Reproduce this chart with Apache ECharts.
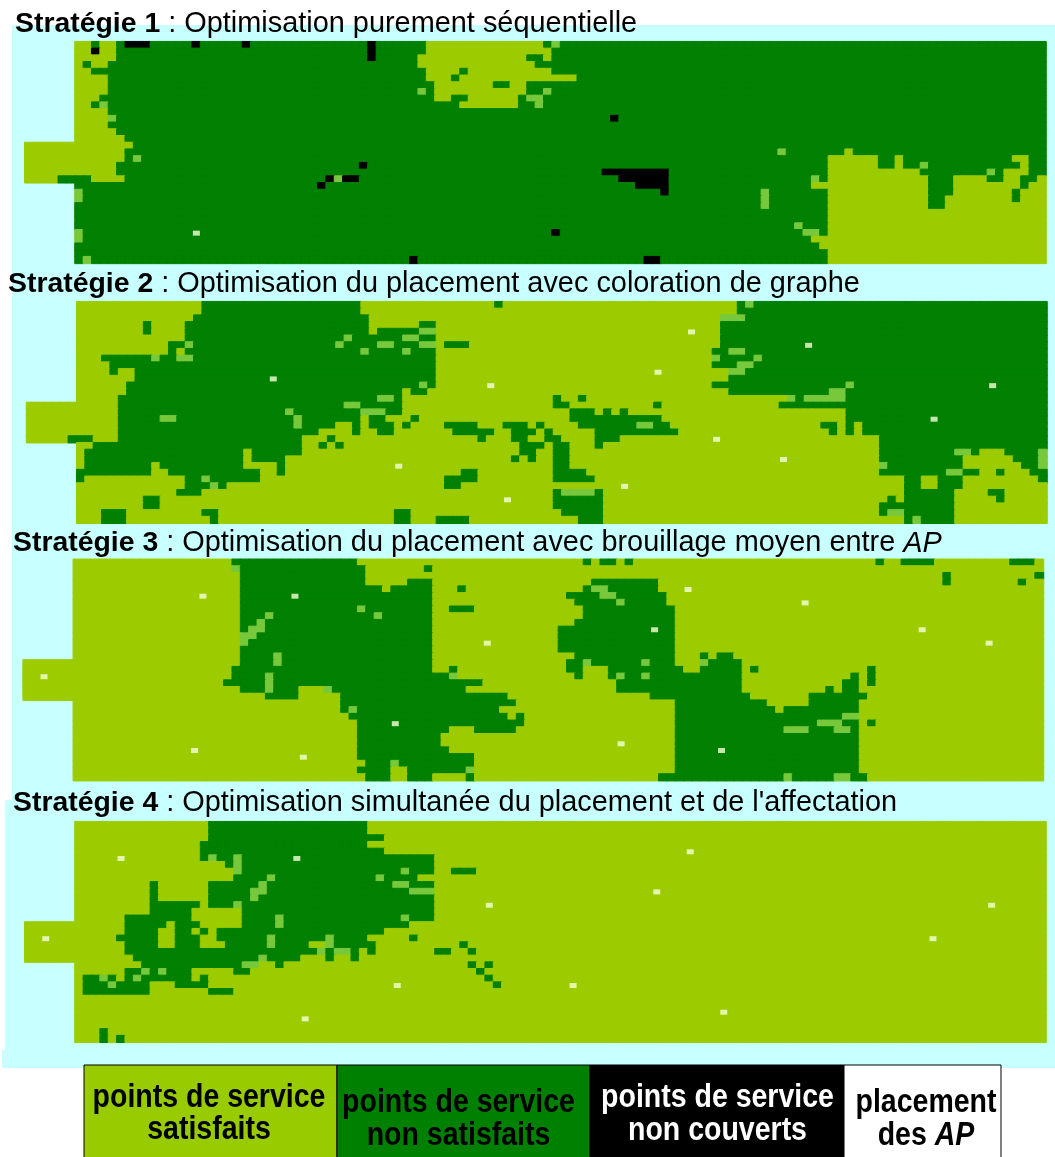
<!DOCTYPE html>
<html><head><meta charset="utf-8">
<style>html,body{margin:0;padding:0;background:#fff}#c{width:1055px;height:1157px}</style>
<script src="https://cdn.jsdelivr.net/npm/echarts@6/dist/echarts.min.js"></script>
</head><body><div id="c"></div>
<script>
// States: l satisfied, d not satisfied, k not covered, m transition tone seen in the picture
const columns = Array.from({length:122},(_,i)=>String(i-6));
const rowNames = Array.from({length:33},(_,i)=>String(i));
const stubRows = [15,16,17,18,19,20];

const strategy1Base = 'd';
const strategy1Rows = [
"l0:4 d2 k6:8 k14 k20 k35 l42:55 d56 m57","l0:4 k2 k35 l42:56","l0:4 k35 l41:53 l56","l0 l2:3 l41:54",
"l0:1 l42:45 l47:56","l0:3 l42:44 l46:59","l0:3 l43:49 l52:53","l0:3 m41 l43:53 m56",
"l0:2 l43:44 l47:52 m54:55","l0:1 m3 l46:52 m55","l0:3","l0:3 m4 k64",
"l0:3","l0:4","l0:5","l0:6",
"l0:5 m84 l92","l0:5 m7 l90:95 l98 l112:113","l0:4 k34 l90:95 l98 m101 l113","l0:4 k63:70 l90:100 m109 l111:113",
"d-2:-1 l2:5 k30 m31 k32:33 k65:70 m88 l90:101 l105:108 l111:112 l115","k29 k67:70 l88:101 l105:112 l114:115","m0 k70 m82 l90:101 l105:111 l113:115","m0 m82 l90:101 l104:111 l113:115",
"m82 l90:101 l104:115","l90:115","l90:115","m86 l90:115",
"m0 k57 m87:88 l90:115","m0 l88:115","l89:115","l90:115","m1 k40 k68:69 l90:115"];

const strategy2Base = 'l';
const strategy2Rows = [
"d15:33 d50 d79 m80 d81:115","d15:33 d79:115","d14:34 m77:79 d80:115","d13:34 d8 d41:42 d77:115",
"d8 d13:34 d36:40 m41:42 d77:115","d13:31 m32 d33:38 m39:40 d41:42 d77:115","d11:12 m13 d14:30 m31 d32:35 m36:37 d38:40 m41:42 d44:46 d77:115","d11 d13:33 m34 d35:38 m39 d40:42 d76:77 m78:79 d80:115",
"d3:8 m9 d10:11 m12:13 d14:42 m76 d77:80 m81 d82:115","d4:42 d76:78 m79:80 d81:115","d4 d7:42 m78:79 d80:115","d7:42 d78:115",
"d6:40 m41 d42 d76:91 m92 d93:115","d6:38 d40:41 d78:89 m90:91 d92:115","d5:35 m36:37 d38 d57 d60 m85 d86 m87:91 d92:115","d5:31 m32:33 d34:38 d57:58 d69 d84:115",
"d5:24 m25 d26:33 m34:36 d37:38 d59:61 d63 d65 d92:115","d5:9 m10:11 d12:25 m26 d27:33 d35:36 d40 d59:69 d92:115","d5:25 m26 d27:30 d33 d35:37 d39 d44:47 d51:53 d55 d60:66 m67:68 d69:70 d89:90 d92 d94:115","d5:28 d33 d36:37 d45:49 d52:54 d56 d62:71 d90 d92 d94:115",
"d-1:1 d5:26 d30 d48 d52:53 d56:57 d62:64 d96:115","d2:26 d29 d31 d53:55 d57:58 d62 d96:115","d1:19 d21:26 d53:54 d57:58 d96:104 m105:106 d107 d111:114 m115","d1:19 d21:24 d52 d54 d57:58 d96:105 d112:114 m115",
"d1:8 d10:19 d24 d57:58 m96 d97:105 d113:114 m115","d0:8 d11:21 d24 d46:47 d57:60 d96:103 m104:105 d106:107 d110 d114:115","d0 d13:14 m15 d16:21 d44:47 d57:61 d99:100 d103:105 d115","d13:15 m16 d17 d44:45 d99:100 d103:105",
"d12:14 d57 m58:61 d62 d99:104 d109:110","d8:9 d57:62 d97 d99:104 d110","d8:9 d57:62 d96:104","d3:5 d15:16 d38:39 d58:62 d96 m97:98 d99:104","d3:5 d16 d38:39 d43:46 d60:62 d99 m100 d101:104"];

const strategy3Base = 'l';
const strategy3Rows = [
"d19:33 d61 d63:64 d66 d96 d99:102 d112:114","m19 d20:34 d42","d20:34 d104 d115","d20:34 d40:42 d62:69 d104 d113",
"d20:36 d38:42 d46 d61 m62:63 d64:69","d20:42 d59:62 m63:64 d65:70","d20:42 d60:64 m65 d66:70","d20:33 m34 d35:42 d45:47 d61:71",
"d20:22 m23 d24:35 m36 d37:42 d61:71","d20:21 m22 d23:42 d60:71","d20 m21:22 d23:42 d58:71","m20:21 d22:42 d58:71",
"m20 d21:42 d58:71","d20:42 d58:71","d20:23 m24 d25:42 d60:71 d75 d77:78","d20:23 m24 d25:42 d59:60 m61 d62:67 m68 d69:71 m75 d76:79",
"d19:42 d45 d59:60 d64:72 d75:79 d81 d95","d19:22 m23 d24:44 m45 d60 d64 m65 d66:67 m68 d69:79 d93 d95","d18:22 m23 d24:48 d65:79 d92:93 d95","d20:22 m23 d24:26 m30 d31:46 d65:79 d90 d92:93",
"d23:26 d32:51 d69:80 d88:94","d32:52 d72:82 d88:93","d32 m33 d34:50 d72:83 d85:93","d33:51 d53 d72:91 m92:93",
"d34:53 d72:88 m89:91 d92:93 d95","d34:44 d48:52 d72:84 m85:87 d88:90 m91:92 d93","d34:43 d72:93","d34:43 d72:93",
"d34:44 d72:93","d34:47 d72:93","d35:37 m38 d39:47 d72:93","d34:37 d40:46 m47 d72:93","d35:37 d40:42 d47 d70:84 m85 d86:90 m91:92 d93:94"];

const strategy4Base = 'l';
const strategy4Rows = [
"d16:34","d16:34","d16:36","d15:34",
"d15:36","d15 m16 d17:18 m19 d20:42","d18 m19 d20:42","m19 d20:38 m39 d40:42 d45:47",
"d19:22 m23 d24:35 m36 d37:40","d9 d16:21 m22 d23:37 m38:39 d40:42","d9 d16:20 m21:22 d23:39 m40:42","d9 d16:20 m21 d22:42",
"d9:14 d16:18 m19 d20:42","d9:13 d20:42","d6:13 d20:23 m24 d25:38 m39 d40:42","d6:10 d12:14 d20:23 m24 d25:39",
"d6:9 d12:13 d15 d17:36","d5:9 d12:14 d17:22 m23 d24:29 m30 d31:34 d40","d6:9 d12:14 d18:22 m23 d24:27 m30 d31:35 d46","d6:28 m29 d30 m31:32 d33 d35 d43:44 d47",
"d7:21 m22 d23:26 d30 d33","d8:19 m20:21 d24 d47 d49","d6:7 m8 d9 m10 d11:13 d19:20 d48","d1:2 m3 d4 d6 m7 d8:13 d15 d49",
"d1:3 m4 d5:8 d12:15 d50","d1:8 d16:18","","",
"","","","d3","d3 d5"];

// AP positions [column, row]
const strategy1AP = [[14,28]];
const strategy2AP = [[73,4],[69,10],[49,12],[38,24],[51,29],[65,27],[23,11],[87,6],[109,12],[102,17],[76,20],[84,23]];
const strategy3AP = [[15,5],[26,5],[-4,17],[14,28],[27,29],[49,12],[69,10],[73,4],[38,24],[65,27],[87,6],[101,10],[109,12],[77,28]];
const strategy4AP = [[5,5],[26,5],[-4,17],[27,29],[73,4],[69,10],[49,12],[38,24],[59,24],[77,28],[109,12],[102,17]];

const titles = [
  ["Stratégie 1"," : Optimisation purement séquentielle",""],
  ["Stratégie 2"," : Optimisation du placement avec coloration de graphe",""],
  ["Stratégie 3"," : Optimisation du placement avec brouillage moyen entre ","AP"],
  ["Stratégie 4"," : Optimisation simultanée du placement et de l'affectation",""]
];
const legendLabels = [["points de service","satisfaits"],["points de service","non satisfaits"],["points de service","non couverts"],["placement","des "]];

const stateColor = {l:'#9ccc00',d:'#018001',k:'#000000',m:'#78c83c'};
const panelBox = [
  {x0:75,  x1:1046,  y0:41.7, y1:263.4, tx:15, ty:10},
  {x0:76.7,x1:1047,  y0:301.7,y1:523.3, tx:8,  ty:270},
  {x0:73.3,x1:1043.5,y0:559.3,y1:780.7, tx:13, ty:529},
  {x0:75,  x1:1046,  y0:821.7,y1:1042.3,tx:13, ty:789}
];
const panels = [[strategy1Base,strategy1Rows,strategy1AP],[strategy2Base,strategy2Rows,strategy2AP],[strategy3Base,strategy3Rows,strategy3AP],[strategy4Base,strategy4Rows,strategy4AP]];

function expand(base,rows){
  const out=[];
  rows.forEach((str,r)=>{
    const cells={};
    for(let c=0;c<116;c++)cells[c]=base;
    if(stubRows.includes(r))for(let c=-6;c<0;c++)cells[c]='l';
    str.split(' ').filter(Boolean).forEach(t=>{
      const m=t.match(/^([ldkm])(-?\d+)(?::(-?\d+))?$/);
      const a=+m[2],b=m[3]!==undefined?+m[3]:a;
      for(let c=a;c<=b;c++)cells[c]=m[1];
    });
    Object.keys(cells).forEach(c=>{
      const col=stateColor[cells[c]];
      out.push({value:[+c+6,r,1],itemStyle:{color:col,borderColor:col,borderWidth:1,opacity:1}});
    });
  });
  return out;
}

const grid=[],xAxis=[],yAxis=[],series=[],title=[];
panels.forEach((p,i)=>{
  const b=panelBox[i],cw=(b.x1-b.x0)/116;
  grid.push({left:b.x0-6*cw,width:122*cw,top:b.y0,height:b.y1-b.y0,containLabel:false});
  xAxis.push({type:'category',gridIndex:i,data:columns,show:false});
  yAxis.push({type:'category',gridIndex:i,data:rowNames,inverse:true,show:false});
  series.push({type:'heatmap',xAxisIndex:i,yAxisIndex:i,data:expand(p[0],p[1]),progressive:0,silent:true,z:2,emphasis:{disabled:true}});
  series.push({type:'scatter',xAxisIndex:i,yAxisIndex:i,data:p[2].map(a=>[a[0]+6,a[1]]),symbol:'rect',symbolSize:[7,5],
    itemStyle:{color:'#f6ffd8'},silent:true,z:4});
  const t=titles[i];
  title.push({left:b.tx,top:b.ty,padding:0,z:8,
    text:'{b|'+t[0]+'}{r|'+t[1]+'}'+(t[2]?'{i|'+t[2]+'}':''),
    textStyle:{fontWeight:'normal',rich:{
      b:{fontFamily:'Liberation Sans',fontSize:28.4,fontWeight:'bold',color:'#000'},
      r:{fontFamily:'Liberation Sans',fontSize:28.9,fontWeight:'normal',color:'#000'},
      i:{fontFamily:'Liberation Sans',fontSize:28.9,fontWeight:'normal',fontStyle:'italic',color:'#000'}}}});
});

const cyan='#c8ffff';
const bgRect=(x,y,w,h)=>({type:'rect',z:-10,silent:true,shape:{x,y,width:w,height:h},style:{fill:cyan}});
const graphic=[bgRect(12,25,1043,1043),bgRect(5,800,1050,268),bgRect(2,1050,1053,18)];
const legendBoxes=[[84,253,'#99cc00','#000'],[337,253,'#008000','#000'],[590,254,'#000','#fff'],[844,157,'#fff','#000']];
const legendY=[[1098,1130],[1103,1136],[1098,1131],[1103,1136]];
const legendCx=[209,458.5,717.5,926];
legendBoxes.forEach((b,i)=>{
  graphic.push({type:'rect',z:10,silent:true,shape:{x:b[0],y:1065,width:b[1],height:100},style:{fill:b[2],stroke:'#000',lineWidth:1}});
  legendLabels[i].forEach((s,j)=>{
    const isAP=i===3&&j===1;
    graphic.push({type:'text',z:11,silent:true,x:legendCx[i],y:legendY[i][j],scaleY:1.15,style:{
      text:isAP?'{a|'+s+'}{c|AP}':s,align:'center',verticalAlign:'middle',fill:b[3],
      font:'bold 28.5px "Liberation Sans"',
      rich:isAP?{a:{font:'bold 28.5px "Liberation Sans"',fill:b[3]},c:{font:'italic bold 28.5px "Liberation Sans"',fill:b[3]}}:undefined}});
  });
});

const chart=echarts.init(document.getElementById('c'),null,{renderer:'canvas'});
chart.setOption({animation:false,backgroundColor:'#fff',title,grid,xAxis,yAxis,series,graphic});
</script></body></html>
